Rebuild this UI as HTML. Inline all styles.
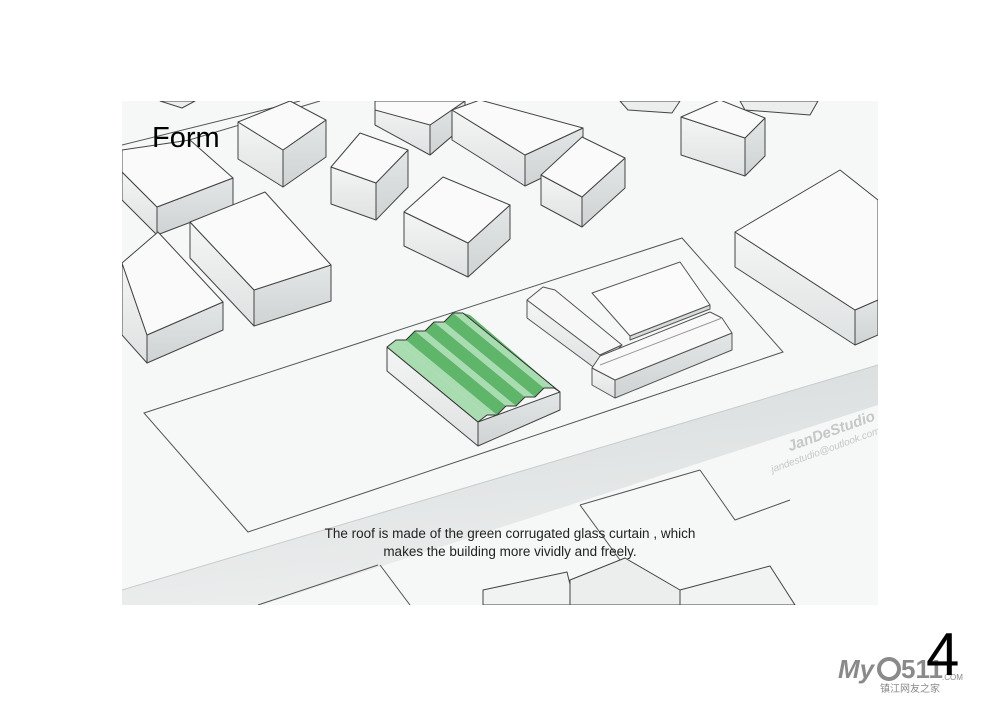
<!DOCTYPE html>
<html><head><meta charset="utf-8"><style>
html,body{margin:0;padding:0;background:#fff;width:1000px;height:707px;overflow:hidden}
svg{display:block}
</style></head><body>
<svg width="1000" height="707" viewBox="0 0 1000 707" xmlns="http://www.w3.org/2000/svg" font-family="Liberation Sans, sans-serif">
<defs>
<clipPath id="c"><rect x="122" y="101" width="756" height="504"/></clipPath>
<linearGradient id="road" x1="0" y1="0" x2="0.3" y2="1">
<stop offset="0" stop-color="#d6dada"/><stop offset="1" stop-color="#eceeee"/></linearGradient>
<linearGradient id="lf" x1="0" y1="0" x2="0" y2="1"><stop offset="0" stop-color="#f4f5f5"/><stop offset="1" stop-color="#dfe2e2"/></linearGradient>
<linearGradient id="rf" x1="0" y1="0" x2="0" y2="1"><stop offset="0" stop-color="#e3e6e6"/><stop offset="1" stop-color="#cfd3d4"/></linearGradient>
</defs>
<g clip-path="url(#c)">
<rect x="122" y="101" width="756" height="504" fill="#f6f7f7"/>
<polygon points="122,590 878,365 878,405 262,605 122,605" fill="url(#road)"/>
<line x1="122" y1="590" x2="878" y2="365" stroke="#c8cccc" stroke-width="1"/>
<g fill="none" stroke="#555" stroke-width="1">
<polygon points="144,413 682,238 783,352 248,532"/>
<line x1="580" y1="505" x2="700" y2="470"/>
<line x1="580" y1="505" x2="620" y2="560"/>
<polyline points="380,565 410,605"/>
<polyline points="700,470 735,520 790,500"/>
<polyline points="258,605 378,565"/>
<line x1="122" y1="145" x2="300" y2="101"/>
<line x1="122" y1="160" x2="320" y2="101"/>
</g>
<g stroke="#444" stroke-width="1" stroke-linejoin="round">
<polygon points="483,605 483,590 567,572 575,605" fill="#f1f2f2"/>
<polygon points="570,580 625,558 680,590 680,605 570,605" fill="#eceeee"/>
<polygon points="680,590 770,566 795,605 680,605" fill="#f1f2f2"/>
</g>
<g stroke="#444" stroke-width="1" stroke-linejoin="round">
<polygon points="620,101 680,101 672,113 628,110" fill="#eceeee"/>
<polygon points="740,101 818,101 810,115 745,110" fill="#eceeee"/>
<polygon points="160,101 195,101 182,108" fill="#eceeee"/>
<polygon points="375,101 465,101 465,125 430,155 375,125" fill="url(#lf)"/>
<polygon points="430,125 465,101 465,125 430,155" fill="url(#rf)"/>
<polygon points="375,101 465,101 430,125 375,110" fill="#fafafa"/>
<polygon points="452,110 525,155 525,186 452,140" fill="url(#lf)"/>
<polygon points="525,155 583,128 583,158 525,186" fill="url(#rf)"/>
<polygon points="452,110 480,100 583,128 525,155" fill="#fafafa"/>
<polygon points="681,117 745,138 745,176 681,155" fill="url(#lf)"/>
<polygon points="745,138 765,118 765,156 745,176" fill="url(#rf)"/>
<polygon points="681,117 720,100 765,118 745,138" fill="#fafafa"/>
<polygon points="238,122 283,150 283,187 238,159" fill="url(#lf)"/>
<polygon points="283,150 326,120 326,157 283,187" fill="url(#rf)"/>
<polygon points="238,122 290,101 326,120 283,150" fill="#fafafa"/>
<polygon points="122,172 157,207 157,235 122,200" fill="url(#lf)"/>
<polygon points="157,207 233,178 233,206 157,235" fill="url(#rf)"/>
<polygon points="122,150 190,140 233,178 157,207 122,172" fill="#fafafa"/>
<polygon points="331,167 376,183 376,220 331,204" fill="url(#lf)"/>
<polygon points="376,183 408,150 408,187 376,220" fill="url(#rf)"/>
<polygon points="331,167 360,133 408,150 376,183" fill="#fafafa"/>
<polygon points="541,175 582,197 582,227 541,205" fill="url(#lf)"/>
<polygon points="582,197 625,158 625,188 582,227" fill="url(#rf)"/>
<polygon points="541,175 582,137 625,158 582,197" fill="#fafafa"/>
<polygon points="404,212 468,243 468,277 404,246" fill="url(#lf)"/>
<polygon points="468,243 510,205 510,239 468,277" fill="url(#rf)"/>
<polygon points="404,212 443,177 510,205 468,243" fill="#fafafa"/>
<polygon points="190,222 254,290 254,326 190,258" fill="url(#lf)"/>
<polygon points="254,290 331,265 331,301 254,326" fill="url(#rf)"/>
<polygon points="190,222 265,192 331,265 254,290" fill="#fafafa"/>
<polygon points="122,263 147,335 147,363 122,335" fill="url(#lf)"/>
<polygon points="147,335 223,302 223,330 147,363" fill="url(#rf)"/>
<polygon points="122,263 158,232 223,302 147,335" fill="#fafafa"/>
<polygon points="735,232 855,310 855,345 735,267" fill="url(#lf)"/>
<polygon points="855,310 878,300 878,335 855,345" fill="url(#rf)"/>
<polygon points="735,232 840,170 878,200 878,300 855,310" fill="#fafafa"/>
<polygon points="387,347 478,422 478,446 387,371" fill="url(#lf)"/>
<polygon points="478,422 560,392 560,410 478,446" fill="url(#rf)"/>
</g>
<!-- green corrugated roof: stripes run from back edge to front edge -->
<g stroke="none">
<polygon points="387,347 396,340 487,415 478,422" fill="#a9dcb0"/>
<polygon points="396,340 406,340 497,415 487,415" fill="#a9dcb0"/>
<polygon points="406,340 415,331 506,406 497,415" fill="#5fb56a"/>
<polygon points="415,331 425,331 516,406 506,406" fill="#a9dcb0"/>
<polygon points="425,331 434,322 525,397 516,406" fill="#5fb56a"/>
<polygon points="434,322 444,322 535,397 525,397" fill="#a9dcb0"/>
<polygon points="444,322 453,313 544,388 535,397" fill="#5fb56a"/>
<polygon points="453,313 463,313 554,388 544,388" fill="#a9dcb0"/>
<polygon points="463,313 470,315 560,392 554,388" fill="#5fb56a"/>
</g>
<g stroke="#333" stroke-width="1" fill="none">
<polyline points="387,347 396,340 406,340 415,331 425,331 434,322 444,322 453,313 463,313"/>
<polyline points="478,422 487,415 497,415 506,406 516,406 525,397 535,397 544,388 554,388 560,392"/>
<line x1="387" y1="347" x2="478" y2="422"/>
<line x1="463" y1="313" x2="560" y2="392"/>
</g>
<g stroke="#555" stroke-width="1" stroke-linejoin="round">
<polygon points="592,293 680,262 710,305 630,336" fill="#fbfbfb"/>
<polygon points="630,336 710,305 710,309 630,340" fill="#d8dcdc"/>
<polygon points="527,300 600,355 600,372 527,318" fill="url(#lf)"/>
<polygon points="527,300 543,287 555,290 622,345 600,355" fill="#f7f7f7"/>
<polygon points="600,355 622,345 600,368" fill="#dde0e0"/>
<polygon points="592,368 615,380 615,398 592,385" fill="url(#lf)"/>
<polygon points="615,380 732,333 732,350 615,398" fill="url(#rf)"/>
<polygon points="592,368 600,356 710,312 722,318 732,333 615,380" fill="#f9f9f9"/>
<line x1="600" y1="365" x2="722" y2="318" stroke="#999"/>
</g>
<text x="510" y="538" text-anchor="middle" font-size="13.5" fill="#222">The roof is made of the green corrugated glass curtain , which</text>
<text x="510" y="556" text-anchor="middle" font-size="13.5" fill="#222">makes the building more vividly and freely.</text>
<g transform="translate(876,420) rotate(-20)" fill="#c4c8c8" font-style="italic" text-anchor="end">
<text x="0" y="0" font-size="15" font-weight="bold">JanDeStudio</text>
<text x="0" y="14" font-size="10">jandestudio@outlook.com</text>
</g>
<text x="152" y="147" font-size="29" fill="#000">Form</text>
</g>
<text x="838" y="678" font-size="26" font-weight="bold" fill="#8a8a8a" font-style="italic">My</text>
<circle cx="889" cy="669" r="10" fill="none" stroke="#8a8a8a" stroke-width="4"/>
<text x="901" y="678" font-size="26" font-weight="bold" fill="#8a8a8a">511</text>
<text x="942" y="680" font-size="8" fill="#8a8a8a">.COM</text>
<text x="880" y="692" font-size="10" fill="#8a8a8a" font-family="Liberation Sans, Noto Sans CJK SC, sans-serif">镇江网友之家</text>
<text x="926" y="675" font-size="60" fill="#000">4</text>
</svg>
</body></html>
